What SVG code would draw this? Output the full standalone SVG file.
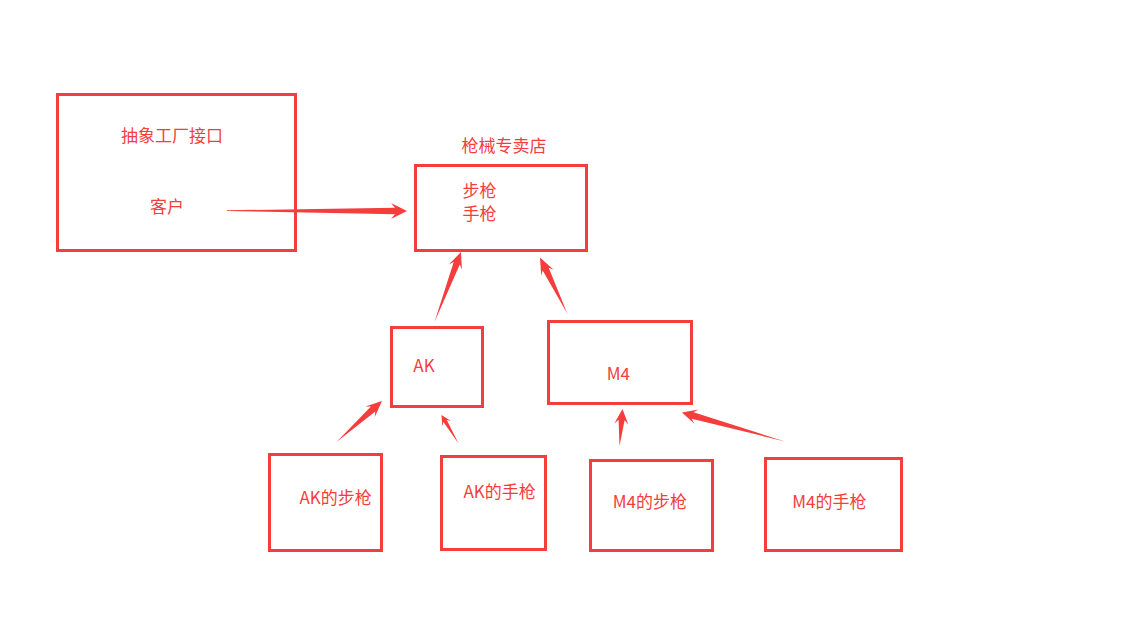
<svg xmlns="http://www.w3.org/2000/svg" width="1142" height="619" viewBox="0 0 1142 619">
<style>
.box{fill:none;stroke:#f43e3e;stroke-width:3}
.t{fill:#f43e3e;font-family:"Noto Sans CJK SC","Noto Sans",sans-serif;font-size:17px}
.arr{fill:#f43e3e;stroke:none}
</style>
<rect width="1142" height="619" fill="#ffffff"/>
<g id="client">
<rect class="box" x="57.5" y="94.5" width="238" height="156"/>
<text class="t" x="121" y="141.5">抽象工厂接口</text>
<text class="t" x="150" y="213">客户</text>
</g>
<g id="store">
<text class="t" x="461.5" y="152">枪械专卖店</text>
<rect class="box" x="415.5" y="165.5" width="171" height="85"/>
<text class="t" x="462.5" y="196.8">步枪</text>
<text class="t" x="462.5" y="220.3">手枪</text>
</g>
<g id="ak">
<rect class="box" x="391.5" y="327.5" width="91" height="79"/>
<text class="t" x="413.3" y="371.7">AK</text>
</g>
<g id="m4">
<rect class="box" x="548.5" y="321.5" width="143" height="82"/>
<text class="t" x="606.7" y="380">M4</text>
</g>
<g id="ak-rifle">
<rect class="box" x="269.5" y="454.5" width="112" height="96"/>
<text class="t" x="299.5" y="504.3">AK的步枪</text>
</g>
<g id="ak-pistol">
<rect class="box" x="441.5" y="456.5" width="104" height="93"/>
<text class="t" x="463.5" y="497.7">AK的手枪</text>
</g>
<g id="m4-rifle">
<rect class="box" x="590.5" y="460.5" width="122" height="90"/>
<text class="t" x="612.7" y="508.3">M4的步枪</text>
</g>
<g id="m4-pistol">
<rect class="box" x="765.5" y="458.5" width="136" height="92"/>
<text class="t" x="792.3" y="508.3">M4的手枪</text>
</g>
<g id="connectors">
<polygon class="arr" points="227,210.3 395,207.8 391,203 407,211 391,219 395,214.2 227,210.9"/>
<polygon class="arr" points="434.5,322 459.8,264.4 461.9,269.4 461,252 448.8,264.5 453.7,262.1"/>
<polygon class="arr" points="567.5,314 548.7,267.8 553.7,269.7 540,257.5 541.2,275.8 542.7,270.6"/>
<polygon class="arr" points="336.5,442 375.3,411.5 374.8,416.9 382,401 365.4,406.5 370.9,406.6"/>
<polygon class="arr" points="458.5,443.5 446.8,420 450.9,421 441.5,415 442.3,426.2 443.4,422"/>
<polygon class="arr" points="619.5,446 624.6,420.2 628.3,424.5 622.5,409 614.3,423.4 618.6,419.7"/>
<polygon class="arr" points="785,441.5 693.5,412.3 698.5,409.4 682,412.5 694.4,423.8 691.7,418.7"/>
</g>
</svg>
